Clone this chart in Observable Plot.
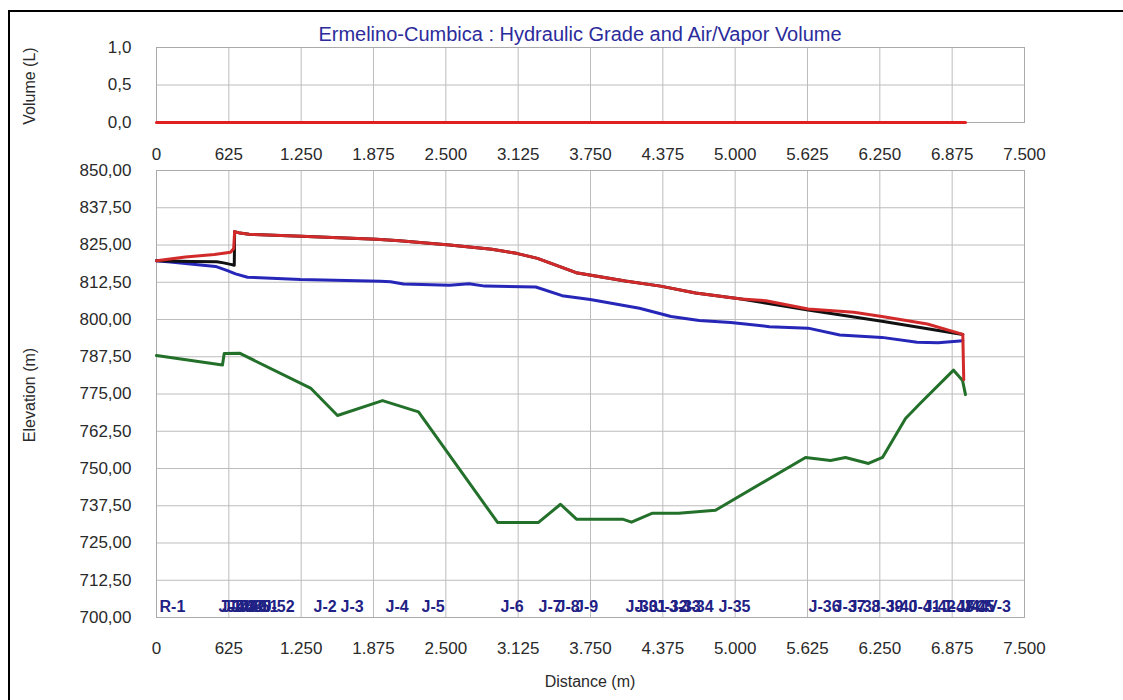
<!DOCTYPE html>
<html>
<head>
<meta charset="utf-8">
<script src="https://cdn.jsdelivr.net/npm/d3@7"></script>
<script src="https://cdn.jsdelivr.net/npm/@observablehq/plot@0.6"></script>
<style>
  body { margin: 0; background: #fff; font-family: "Liberation Sans", Arial, sans-serif; }
  #wrap { position: relative; width: 1123px; height: 700px; overflow: hidden; background: #fff; }
  #frame { position: absolute; left: 8px; top: 10px; width: 1300px; height: 900px; border-left: 2px solid #000; border-top: 2px solid #000; }
  #title { position: absolute; top: 24px; left: 0; width: 1160px; text-align: center; font-size: 20px; line-height: 20px; color: #2b2b9b; z-index: 5; }
  .panel { position: absolute; left: 0; }
  .atitle { position: absolute; font-size: 16px; color: #2a2a2a; white-space: nowrap; transform: translate(-50%, -50%); z-index: 5; }
  .rot { transform: translate(-50%, -50%) rotate(-90deg); }
</style>
</head>
<body>
<div id="wrap">
  <div id="frame"></div>
  <div id="p1" class="panel" style="top:0px"></div>
  <div id="p2" class="panel" style="top:130px"></div>
  <div id="title">Ermelino-Cumbica : Hydraulic Grade and Air/Vapor Volume</div>
  <div class="atitle rot" style="left:30px; top:86px">Volume (L)</div>
  <div class="atitle rot" style="left:30px; top:395px">Elevation (m)</div>
  <div class="atitle" style="left:590px; top:682px">Distance (m)</div>
</div>
<script>
// ---------- data ----------
const xTicks = [0, 625, 1250, 1875, 2500, 3125, 3750, 4375, 5000, 5625, 6250, 6875, 7500];
const elevTicks = [700, 712.5, 725, 737.5, 750, 762.5, 775, 787.5, 800, 812.5, 825, 837.5, 850];
const volTicks = [0, 0.5, 1];

// Air/vapor volume (L)
const volDist = [0, 6990];
const volValue = [0, 0];

// Hydraulic grade – maximum (red)
const maxDist = [0, 250, 500, 640, 667, 675, 720, 800, 1250, 1900, 2100, 2533, 2897, 3110, 3292, 3626, 4051, 4355, 4658, 5053, 5266, 5630, 6025, 6268, 6661, 6967, 6975];
const maxHead = [819.7, 821.0, 821.8, 822.6, 823.8, 829.5, 829.0, 828.6, 827.9, 826.9, 826.4, 825.0, 823.6, 822.2, 820.5, 815.7, 812.9, 811.2, 808.9, 806.9, 806.3, 803.5, 802.4, 801.0, 798.5, 795.0, 779.8];

// Hydraulic grade – initial (black)
const iniDist = [0, 300, 520, 580, 640, 672, 675, 720, 800, 1250, 1900, 2100, 2533, 2897, 3110, 3292, 3626, 4051, 4355, 4658, 5053, 5630, 6268, 6967];
const iniHead = [819.7, 819.5, 819.4, 819.0, 818.5, 818.2, 829.5, 829.0, 828.6, 827.9, 826.9, 826.4, 825.0, 823.6, 822.2, 820.5, 815.7, 812.9, 811.2, 808.9, 806.9, 803.2, 799.4, 795.0];

// Hydraulic grade – minimum (blue)
const minDist = [0, 120, 510, 613, 683, 786, 1244, 1936, 2022, 2134, 2533, 2700, 2837, 3277, 3505, 3748, 4173, 4446, 4689, 4962, 5296, 5630, 5904, 6268, 6572, 6754, 6967];
const minHead = [819.7, 819.3, 817.8, 816.4, 815.3, 814.2, 813.4, 812.8, 812.7, 811.9, 811.5, 812.0, 811.2, 810.9, 808.0, 806.7, 803.8, 801.0, 799.7, 799.0, 797.6, 797.1, 794.8, 794.0, 792.4, 792.2, 792.9];

// Ground elevation (green)
const grdDist = [0, 570, 585, 717, 1331, 1564, 1953, 2264, 2947, 3301, 3491, 3629, 4027, 4104, 4286, 4511, 4830, 5608, 5824, 5953, 6152, 6273, 6472, 6602, 6887, 6965, 6990];
const grdElev = [787.9, 784.7, 788.6, 788.7, 777.0, 767.8, 772.8, 769.0, 731.9, 731.9, 738.0, 733.0, 733.0, 732.0, 735.0, 735.0, 736.0, 753.7, 752.7, 753.7, 751.7, 753.7, 766.8, 772.0, 783.0, 779.5, 774.8];

// Node labels
const nodeNames = ["R-1", "J-1", "J-46", "J-47", "J-48", "J-49", "J-50", "J-51", "J-52", "J-2", "J-3", "J-4", "J-5", "J-6", "J-7", "J-8", "J-9", "J-30", "J-31", "J-32", "J-33", "J-34", "J-35", "J-36", "J-37", "J-38", "J-39", "J-40", "J-41", "J-42", "J-43", "J-44", "J-45", "FCV-3"];
const nodeDist = [0, 510, 540, 580, 615, 650, 690, 750, 890, 1331, 1564, 1953, 2264, 2947, 3275, 3431, 3590, 4027, 4104, 4286, 4400, 4511, 4830, 5608, 5824, 5953, 6152, 6273, 6472, 6602, 6760, 6887, 6940, 6965];

// ---------- build ----------
const zip = (xs, ys) => xs.map((x, i) => ({x, y: ys[i]}));
const vol = zip(volDist, volValue);
const hMax = zip(maxDist, maxHead);
const hIni = zip(iniDist, iniHead);
const hMin = zip(minDist, minHead);
const grd = zip(grdDist, grdElev);
const nodes = nodeNames.map((n, i) => ({name: n, x: nodeDist[i]}));

const loc = d3.formatLocale({decimal: ",", thousands: ".", grouping: [3], currency: ["", ""]});
const fx = loc.format(",d");
const fy2 = loc.format(".2f");
const fy1 = loc.format(".1f");

const baseStyle = {fontFamily: "'Liberation Sans', Arial, sans-serif", fontSize: "17px", color: "#2a2a2a", background: "transparent", overflow: "visible"};
const gridColor = "#bdbdbd";

const p1 = Plot.plot({
  width: 1123, height: 170,
  marginLeft: 156, marginRight: 99, marginTop: 47, marginBottom: 48,
  style: baseStyle,
  x: {domain: [0, 7500]},
  y: {domain: [0, 1]},
  marks: [
    Plot.gridX(xTicks, {stroke: gridColor, strokeOpacity: 1}),
    Plot.gridY(volTicks, {stroke: gridColor, strokeOpacity: 1}),
    Plot.frame({stroke: "#aaaaaa"}),
    Plot.axisX(xTicks, {anchor: "bottom", tickSize: 0, tickPadding: 25, tickFormat: fx, label: null}),
    Plot.axisY(volTicks, {anchor: "left", tickSize: 0, tickPadding: 25, tickFormat: fy1, label: null}),
    Plot.line(vol, {x: "x", y: "y", stroke: "#e02020", strokeWidth: 3})
  ]
});
document.getElementById("p1").appendChild(p1);

const p2 = Plot.plot({
  width: 1123, height: 570,
  marginLeft: 156, marginRight: 99, marginTop: 40, marginBottom: 83,
  style: baseStyle,
  x: {domain: [0, 7500]},
  y: {domain: [700, 850]},
  marks: [
    Plot.gridX(xTicks, {stroke: gridColor, strokeOpacity: 1}),
    Plot.gridY(elevTicks, {stroke: gridColor, strokeOpacity: 1}),
    Plot.frame({stroke: "#aaaaaa"}),
    Plot.axisX(xTicks, {anchor: "bottom", tickSize: 0, tickPadding: 24, tickFormat: fx, label: null}),
    Plot.axisY(elevTicks, {anchor: "left", tickSize: 0, tickPadding: 25, tickFormat: fy2, label: null}),
    Plot.line(grd, {x: "x", y: "y", stroke: "#23702a", strokeWidth: 3}),
    Plot.line(hMin, {x: "x", y: "y", stroke: "#2626b8", strokeWidth: 3}),
    Plot.line(hIni, {x: "x", y: "y", stroke: "#111111", strokeWidth: 3}),
    Plot.line(hMax, {x: "x", y: "y", stroke: "#d22a2a", strokeWidth: 3}),
    Plot.text(nodes, {x: "x", y: () => 700, text: "name", textAnchor: "start", dx: 3, dy: -11,
      fill: "#1f2185", fontWeight: "bold", fontSize: 16})
  ]
});
document.getElementById("p2").appendChild(p2);
</script>
</body>
</html>
